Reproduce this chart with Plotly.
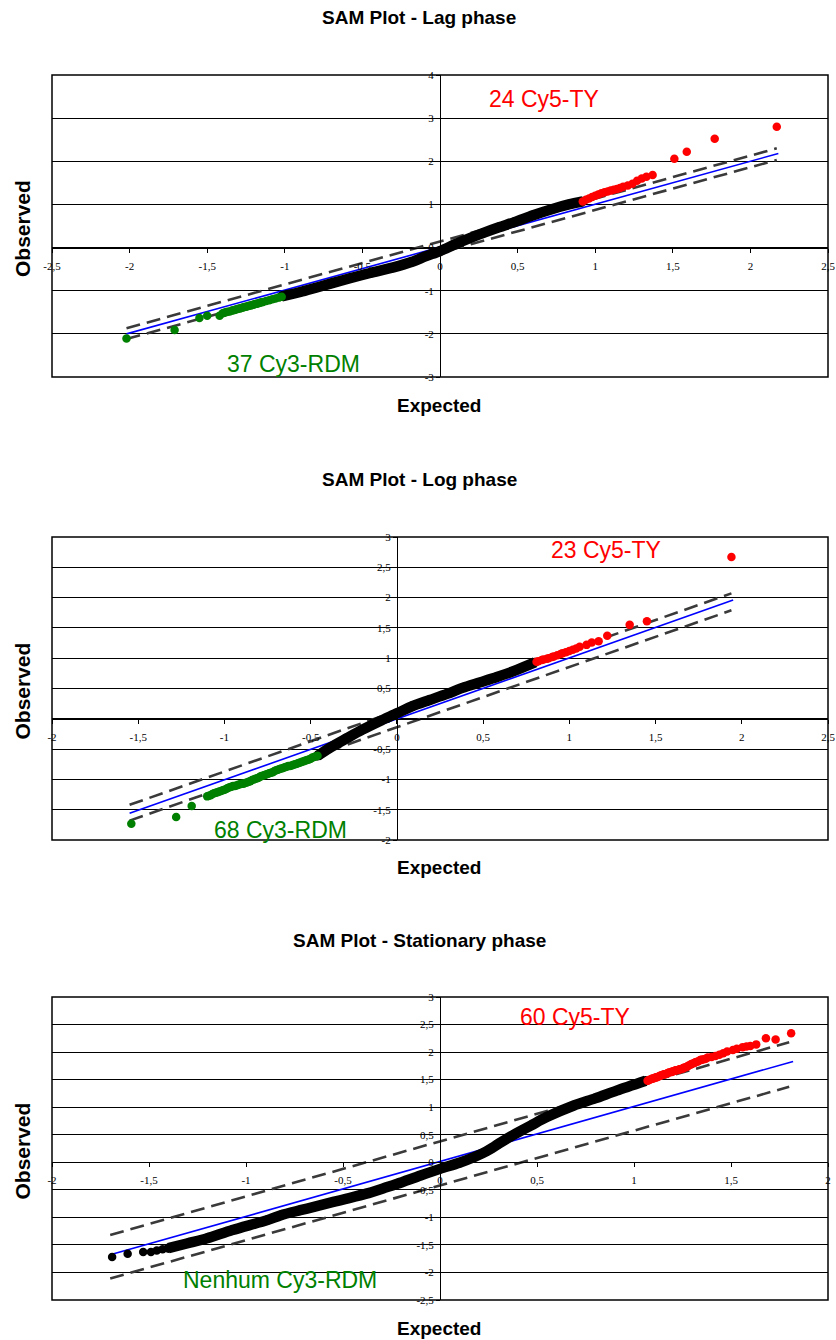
import plotly.graph_objects as go

W, H = 836, 1340

# ================= DATA =================
# ---- Lag phase ----
lag_green_x = [-2.02, -1.71, -1.55, -1.50, -1.42,
               -1.40, -1.39, -1.38, -1.37, -1.355, -1.34, -1.33, -1.32, -1.31, -1.30,
               -1.29, -1.28, -1.27, -1.26, -1.25, -1.24, -1.23, -1.22, -1.21, -1.20,
               -1.19, -1.18, -1.17, -1.16, -1.15, -1.14, -1.12, -1.10, -1.08, -1.06,
               -1.04, -1.02]
lag_green_y = [-2.11, -1.91, -1.63, -1.58, -1.58,
               -1.52, -1.51, -1.50, -1.49, -1.48, -1.46, -1.45, -1.44, -1.43, -1.42,
               -1.41, -1.40, -1.39, -1.38, -1.37, -1.36, -1.35, -1.34, -1.33, -1.32,
               -1.31, -1.30, -1.29, -1.28, -1.27, -1.26, -1.24, -1.22, -1.20, -1.18,
               -1.16, -1.14]
lag_black_x = [-1.02, -0.90, -0.80, -0.70, -0.58, -0.45, -0.30, -0.18, -0.09, 0.00,
               0.10, 0.20, 0.28, 0.38, 0.48, 0.60, 0.72, 0.83, 0.92]
lag_black_y = [-1.13, -1.03, -0.93, -0.83, -0.71, -0.59, -0.46, -0.33, -0.20, -0.08,
               0.08, 0.23, 0.34, 0.47, 0.59, 0.75, 0.89, 1.00, 1.07]
lag_red_x = [0.92, 0.94, 0.96, 0.98, 1.00, 1.02, 1.04, 1.06, 1.08, 1.10, 1.12, 1.14,
             1.16, 1.18, 1.21, 1.24, 1.27, 1.30, 1.33, 1.37, 1.51, 1.59, 1.77, 2.17]
lag_red_y = [1.07, 1.11, 1.14, 1.17, 1.20, 1.23, 1.26, 1.28, 1.30, 1.32, 1.34, 1.36,
             1.38, 1.41, 1.44, 1.48, 1.55, 1.60, 1.64, 1.68, 2.06, 2.22, 2.52, 2.80]
lag_diag_x = [-2.02, 2.18]
lag_diag_y = [-2.00, 2.18]
lag_up_x = [-2.02, 2.17]
lag_up_y = [-1.87, 2.30]
lag_lo_x = [-2.02, 2.17]
lag_lo_y = [-2.12, 2.03]
lag_xtick_vals = [-2.5, -2, -1.5, -1, -0.5, 0, 0.5, 1, 1.5, 2, 2.5]
lag_xtick_text = ["-2,5", "-2", "-1,5", "-1", "-0,5", "0", "0,5", "1", "1,5", "2", "2,5"]
lag_ytick_vals = [-3, -2, -1, 0, 1, 2, 3, 4]
lag_ytick_text = ["-3", "-2", "-1", "0", "1", "2", "3", "4"]

# ---- Log phase ----
log_green_x = [-1.54, -1.28, -1.19,
               -1.10, -1.09, -1.08, -1.07, -1.06, -1.05, -1.04, -1.03, -1.02, -1.01,
               -1.00, -0.99, -0.98, -0.97, -0.96, -0.95, -0.94, -0.93, -0.92, -0.91,
               -0.90, -0.89, -0.88, -0.87, -0.86, -0.85, -0.84, -0.83, -0.82, -0.81,
               -0.80, -0.79, -0.78, -0.77, -0.76, -0.75, -0.74, -0.73, -0.72, -0.71,
               -0.70, -0.69, -0.68, -0.67, -0.66, -0.65, -0.64, -0.63, -0.62, -0.61,
               -0.60, -0.59, -0.58, -0.57, -0.56, -0.55, -0.54, -0.53, -0.52, -0.51,
               -0.50, -0.49, -0.48, -0.47, -0.46]
log_green_y = [-1.73, -1.62, -1.44,
               -1.28, -1.27, -1.26, -1.24, -1.23, -1.22, -1.21, -1.20, -1.19, -1.18,
               -1.17, -1.16, -1.14, -1.13, -1.12, -1.11, -1.11, -1.10, -1.09, -1.08,
               -1.07, -1.07, -1.06, -1.05, -1.04, -1.03, -1.01, -1.00, -0.99, -0.98,
               -0.97, -0.95, -0.94, -0.93, -0.92, -0.91, -0.90, -0.89, -0.88, -0.86,
               -0.85, -0.84, -0.83, -0.82, -0.81, -0.80, -0.79, -0.78, -0.78, -0.77,
               -0.76, -0.75, -0.74, -0.73, -0.72, -0.71, -0.70, -0.69, -0.68, -0.67,
               -0.66, -0.64, -0.63, -0.62, -0.61]
log_black_x = [-0.46, -0.39, -0.29, -0.20, -0.10, 0.00, 0.09, 0.19, 0.29, 0.38,
               0.48, 0.58, 0.68, 0.80]
log_black_y = [-0.61, -0.48, -0.32, -0.18, -0.04, 0.09, 0.21, 0.31, 0.41, 0.51,
               0.60, 0.69, 0.79, 0.93]
log_red_x = [0.81, 0.82, 0.84, 0.85, 0.87, 0.88, 0.90, 0.91, 0.93, 0.95, 0.96, 0.98,
             1.00, 1.02, 1.04, 1.06, 1.10, 1.13, 1.17, 1.22, 1.35, 1.45, 1.94]
log_red_y = [0.94, 0.95, 0.97, 0.98, 0.99, 1.00, 1.02, 1.03, 1.05, 1.07, 1.08, 1.10,
             1.12, 1.14, 1.16, 1.19, 1.22, 1.26, 1.28, 1.37, 1.55, 1.61, 2.67]
log_diag_x = [-1.55, 1.95]
log_diag_y = [-1.56, 1.96]
log_up_x = [-1.55, 1.94]
log_up_y = [-1.42, 2.07]
log_lo_x = [-1.55, 1.94]
log_lo_y = [-1.68, 1.79]
log_xtick_vals = [-2, -1.5, -1, -0.5, 0, 0.5, 1, 1.5, 2, 2.5]
log_xtick_text = ["-2", "-1,5", "-1", "-0,5", "0", "0,5", "1", "1,5", "2", "2,5"]
log_ytick_vals = [-2, -1.5, -1, -0.5, 0, 0.5, 1, 1.5, 2, 2.5, 3]
log_ytick_text = ["-2", "-1,5", "-1", "-0,5", "0", "0,5", "1", "1,5", "2", "2,5", "3"]

# ---- Stationary phase ----
stat_black_pts_x = [-1.69, -1.61, -1.53, -1.49, -1.46, -1.43]
stat_black_pts_y = [-1.72, -1.66, -1.63, -1.63, -1.60, -1.58]
stat_black_x = [-1.40, -1.30, -1.20, -1.07, -0.89, -0.82, -0.72, -0.65, -0.55, -0.48,
                -0.38, -0.29, -0.22, -0.10, 0.00, 0.10, 0.18, 0.24, 0.30, 0.38,
                0.47, 0.55, 0.69, 0.80, 0.91, 1.06]
stat_black_y = [-1.56, -1.47, -1.38, -1.23, -1.05, -0.96, -0.87, -0.81, -0.72, -0.66,
                -0.57, -0.47, -0.39, -0.24, -0.12, -0.01, 0.10, 0.20, 0.33, 0.50,
                0.67, 0.82, 1.03, 1.16, 1.30, 1.48]
stat_red_x = [1.07, 1.075, 1.08, 1.09, 1.095, 1.10, 1.11, 1.115, 1.12, 1.13,
              1.135, 1.14, 1.15, 1.155, 1.16, 1.17, 1.175, 1.18, 1.19, 1.195,
              1.20, 1.21, 1.215, 1.22, 1.23, 1.235, 1.24, 1.25, 1.255, 1.26,
              1.27, 1.275, 1.28, 1.29, 1.295, 1.30, 1.31, 1.315, 1.32, 1.33,
              1.34, 1.345, 1.35, 1.36, 1.37, 1.38,
              1.40, 1.42, 1.44, 1.46, 1.48, 1.51, 1.53, 1.56, 1.58, 1.60,
              1.63, 1.68, 1.73, 1.81]
stat_red_y = [1.48, 1.49, 1.50, 1.51, 1.52, 1.52, 1.54, 1.54, 1.55, 1.56,
              1.57, 1.58, 1.59, 1.60, 1.60, 1.61, 1.62, 1.63, 1.64, 1.64,
              1.65, 1.66, 1.67, 1.67, 1.68, 1.69, 1.69, 1.70, 1.71, 1.72,
              1.73, 1.74, 1.75, 1.77, 1.78, 1.79, 1.80, 1.81, 1.82, 1.83,
              1.85, 1.86, 1.86, 1.87, 1.88, 1.90,
              1.91, 1.93, 1.95, 1.98, 2.01, 2.04, 2.06, 2.09, 2.10, 2.11,
              2.14, 2.25, 2.23, 2.34]
stat_diag_x = [-1.70, 1.82]
stat_diag_y = [-1.68, 1.83]
stat_up_x = [-1.70, 1.80]
stat_up_y = [-1.32, 2.18]
stat_lo_x = [-1.70, 1.80]
stat_lo_y = [-2.11, 1.37]
stat_xtick_vals = [-2, -1.5, -1, -0.5, 0, 0.5, 1, 1.5, 2]
stat_xtick_text = ["-2", "-1,5", "-1", "-0,5", "0", "0,5", "1", "1,5", "2"]
stat_ytick_vals = [-2.5, -2, -1.5, -1, -0.5, 0, 0.5, 1, 1.5, 2, 2.5, 3]
stat_ytick_text = ["-2,5", "-2", "-1,5", "-1", "-0,5", "0", "0,5", "1", "1,5", "2", "2,5", "3"]

titles = ["SAM Plot - Lag phase", "SAM Plot - Log phase", "SAM Plot - Stationary phase"]
red_labels = ["24 Cy5-TY", "23 Cy5-TY", "60 Cy5-TY"]
green_labels = ["37 Cy3-RDM", "68 Cy3-RDM", "Nenhum Cy3-RDM"]
x_title = "Expected"
y_title = "Observed"

# ================= STYLE / LAYOUT =================
SANS = "Liberation Sans, Arial, sans-serif"
SERIF = "Liberation Serif, Times New Roman, serif"
RED = "#FF0000"
GREEN = "#008000"
BLUE = "#0000FF"
DASH = "#3a3a3a"

PLOT_L, PLOT_R = 52, 828
panel_px = [(75, 377), (537, 840), (997, 1300)]          # top, bottom of each plot box
panel_xr = [(-2.5, 2.5), (-2.0, 2.5), (-2.0, 2.0)]
panel_yr = [(-3.0, 4.0), (-2.0, 3.0), (-2.5, 3.0)]
title_py = [17, 480, 940]
xtitle_py = [405, 867, 1328]
red_lbl_px = [(544, 99), (606, 550), (575, 1017)]
green_lbl_px = [(293, 364), (280, 830), (280, 1280)]

def fx(px):
    return px / W

def fy(py):
    return 1 - py / H

panels = [
    dict(green=(lag_green_x, lag_green_y), black=(lag_black_x, lag_black_y), bpts=None,
         red=(lag_red_x, lag_red_y), diag=(lag_diag_x, lag_diag_y),
         up=(lag_up_x, lag_up_y), lo=(lag_lo_x, lag_lo_y),
         xt=(lag_xtick_vals, lag_xtick_text), yt=(lag_ytick_vals, lag_ytick_text)),
    dict(green=(log_green_x, log_green_y), black=(log_black_x, log_black_y), bpts=None,
         red=(log_red_x, log_red_y), diag=(log_diag_x, log_diag_y),
         up=(log_up_x, log_up_y), lo=(log_lo_x, log_lo_y),
         xt=(log_xtick_vals, log_xtick_text), yt=(log_ytick_vals, log_ytick_text)),
    dict(green=None, black=(stat_black_x, stat_black_y), bpts=(stat_black_pts_x, stat_black_pts_y),
         red=(stat_red_x, stat_red_y), diag=(stat_diag_x, stat_diag_y),
         up=(stat_up_x, stat_up_y), lo=(stat_lo_x, stat_lo_y),
         xt=(stat_xtick_vals, stat_xtick_text), yt=(stat_ytick_vals, stat_ytick_text)),
]

fig = go.Figure()
layout = dict(width=W, height=H, margin=dict(l=0, r=0, t=0, b=0, autoexpand=False),
              paper_bgcolor="white", plot_bgcolor="white", showlegend=False)
annotations = []
shapes = []
MS = 8.5

for i, p in enumerate(panels):
    n = "" if i == 0 else str(i + 1)
    xa, ya = "x" + n, "y" + n
    top, bot = panel_px[i]
    xd = [fx(PLOT_L), fx(PLOT_R)]
    yd = [fy(bot), fy(top)]
    xmin, xmax = panel_xr[i]
    ymin, ymax = panel_yr[i]
    xpos = xd[0] + (0 - xmin) / (xmax - xmin) * (xd[1] - xd[0])
    ypos = yd[0] + (0 - ymin) / (ymax - ymin) * (yd[1] - yd[0])

    # dashed delta lines
    for key in ("up", "lo"):
        fig.add_trace(go.Scatter(x=p[key][0], y=p[key][1], mode="lines", xaxis=xa, yaxis=ya,
                                 line=dict(color=DASH, width=2.6, dash="14px,7px"),
                                 hoverinfo="skip"))
    # diagonal
    fig.add_trace(go.Scatter(x=p["diag"][0], y=p["diag"][1], mode="lines", xaxis=xa, yaxis=ya,
                             line=dict(color=BLUE, width=1.6), hoverinfo="skip"))
    # black dense band
    fig.add_trace(go.Scatter(x=p["black"][0], y=p["black"][1], mode="lines+markers",
                             xaxis=xa, yaxis=ya,
                             line=dict(color="black", width=10.5, shape="spline", smoothing=0.8),
                             marker=dict(color="black", size=MS + 1)))
    if p["bpts"] is not None:
        fig.add_trace(go.Scatter(x=p["bpts"][0], y=p["bpts"][1], mode="markers",
                                 xaxis=xa, yaxis=ya, marker=dict(color="black", size=MS)))
    if p["green"] is not None:
        fig.add_trace(go.Scatter(x=p["green"][0], y=p["green"][1], mode="markers",
                                 xaxis=xa, yaxis=ya, marker=dict(color=GREEN, size=MS)))
    fig.add_trace(go.Scatter(x=p["red"][0], y=p["red"][1], mode="markers",
                             xaxis=xa, yaxis=ya, marker=dict(color=RED, size=MS)))

    layout["xaxis" + n] = dict(
        domain=xd, range=[xmin, xmax], anchor="free", position=ypos, automargin=False,
        showline=True, linecolor="black", linewidth=1,
        ticks="outside", ticklen=4, tickcolor="black", tickwidth=1,
        tickvals=p["xt"][0], ticktext=p["xt"][1],
        tickfont=dict(family=SERIF, size=11, color="black"),
        ticklabelstandoff=4,
        showgrid=False, zeroline=False, fixedrange=True)
    layout["yaxis" + n] = dict(
        domain=yd, range=[ymin, ymax], anchor="free", position=xpos, automargin=False,
        showline=True, linecolor="black", linewidth=1,
        ticks="outside", ticklen=4, tickcolor="black", tickwidth=1,
        tickvals=p["yt"][0], ticktext=p["yt"][1],
        tickfont=dict(family=SERIF, size=11, color="black"),
        showgrid=True, gridcolor="black", gridwidth=1,
        zeroline=False, fixedrange=True)

    shapes.append(dict(type="rect", xref=xa + " domain", yref=ya + " domain",
                       x0=0, x1=1, y0=0, y1=1, line=dict(color="black", width=1.5),
                       layer="above"))

    annotations.append(dict(text="<b>" + titles[i] + "</b>", x=fx(419), y=fy(title_py[i]),
                            xref="paper", yref="paper", showarrow=False,
                            xanchor="center", yanchor="middle",
                            font=dict(family=SANS, size=19, color="black")))
    annotations.append(dict(text="<b>" + x_title + "</b>", x=fx(439), y=fy(xtitle_py[i]),
                            xref="paper", yref="paper", showarrow=False,
                            xanchor="center", yanchor="middle",
                            font=dict(family=SANS, size=19, color="black")))
    annotations.append(dict(text="<b>" + y_title + "</b>", x=fx(22), y=fy((top + bot) / 2 + 3),
                            xref="paper", yref="paper", showarrow=False, textangle=-90,
                            xanchor="center", yanchor="middle",
                            font=dict(family=SANS, size=21, color="black")))
    annotations.append(dict(text=red_labels[i], x=fx(red_lbl_px[i][0]), y=fy(red_lbl_px[i][1]),
                            xref="paper", yref="paper", showarrow=False,
                            xanchor="center", yanchor="middle",
                            font=dict(family=SANS, size=23, color=RED)))
    annotations.append(dict(text=green_labels[i], x=fx(green_lbl_px[i][0]), y=fy(green_lbl_px[i][1]),
                            xref="paper", yref="paper", showarrow=False,
                            xanchor="center", yanchor="middle",
                            font=dict(family=SANS, size=23, color=GREEN)))

layout["annotations"] = annotations
layout["shapes"] = shapes
fig.update_layout(**layout)
fig.write_html("out.html", config={"displayModeBar": False})
